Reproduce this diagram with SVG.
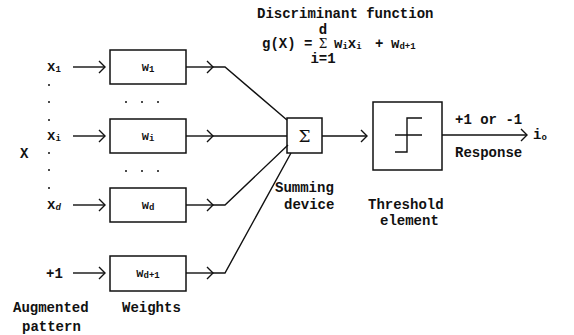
<svg xmlns="http://www.w3.org/2000/svg" width="574" height="335" viewBox="0 0 574 335">
<style>
  text { font-family: "Liberation Mono", "DejaVu Sans Mono", monospace; font-weight: bold; font-size: 14px; fill: #111; }
  .box { fill: #fff; stroke: #111; stroke-width: 1.5; }
  .ln { fill: none; stroke: #111; stroke-width: 1.4; }
  .sub { font-size: 9px; }
  .bl { font-size: 12px; text-anchor: middle; }
  .mid { text-anchor: middle; }
  .dot { fill: #111; }
</style>
<defs>
  <marker id="chev" markerUnits="userSpaceOnUse" markerWidth="10" markerHeight="14" refX="8" refY="7" orient="auto">
    <path d="M2,1 L8,7 L2,13" fill="none" stroke="#111" stroke-width="1.4"/>
  </marker>
</defs>

<g id="title">
  <text x="257" y="18">Discriminant function</text>
  <text x="323" y="34" class="mid">d</text>
  <text x="262" y="48">g(X) = </text>
  <text x="323" y="48" class="mid" style="font-family:'DejaVu Serif',serif;font-weight:normal;font-size:12px">Σ</text>
  <text x="334" y="48">w<tspan class="sub" dy="1">i</tspan><tspan dy="-1">x</tspan><tspan class="sub" dy="1">i</tspan></text>
  <text x="375" y="48">+</text>
  <text x="391" y="48">w<tspan class="sub" dy="1">d+1</tspan></text>
  <text x="323" y="63" class="mid">i=1</text>
</g>

<g id="inputs">
  <text x="47" y="71">x<tspan class="sub" dy="1">1</tspan></text>
  <text x="47" y="140">x<tspan class="sub" dy="1">i</tspan></text>
  <text x="47" y="209">x<tspan class="sub" dy="1" style="font-style:italic">d</tspan></text>
  <text x="46" y="278">+1</text>
  <text x="20" y="158">X</text>
  <circle class="dot" cx="49" cy="85" r="1"/>
  <circle class="dot" cx="49" cy="102" r="1"/>
  <circle class="dot" cx="49" cy="120" r="1"/>
  <circle class="dot" cx="49" cy="153" r="1"/>
  <circle class="dot" cx="49" cy="170" r="1"/>
  <circle class="dot" cx="49" cy="188" r="1"/>
  <circle class="dot" cx="126" cy="102" r="1"/>
  <circle class="dot" cx="142" cy="102" r="1"/>
  <circle class="dot" cx="158" cy="102" r="1"/>
  <circle class="dot" cx="126" cy="171" r="1"/>
  <circle class="dot" cx="142" cy="171" r="1"/>
  <circle class="dot" cx="158" cy="171" r="1"/>
</g>

<g id="w1">
  <rect class="box" x="110" y="50" width="76" height="34"/>
  <text x="148" y="71" class="bl">w<tspan class="sub" dy="1">1</tspan></text>
</g>
<g id="wi">
  <rect class="box" x="110" y="119" width="76" height="34"/>
  <text x="148" y="140" class="bl">w<tspan class="sub" dy="1">i</tspan></text>
</g>
<g id="wd">
  <rect class="box" x="110" y="188" width="76" height="34"/>
  <text x="148" y="209" class="bl">w<tspan class="sub" dy="1">d</tspan></text>
</g>
<g id="wd1">
  <rect class="box" x="110" y="256" width="76" height="35"/>
  <text x="148" y="277" class="bl">w<tspan class="sub" dy="1">d+1</tspan></text>
</g>

<g id="sum">
  <rect class="box" x="287" y="118" width="35" height="35"/>
  <text x="304.5" y="142" class="mid" style="font-family:'DejaVu Serif',serif;font-weight:normal;font-size:17px">Σ</text>
  <text x="275" y="192">Summing</text>
  <text x="284" y="209">device</text>
</g>

<g id="threshold">
  <rect class="box" x="373" y="102" width="69" height="68"/>
  <path class="ln" d="M395,152 H407 V118 H422 M395,135 H422" stroke-width="1.8"/>
  <text x="368" y="209">Threshold</text>
  <text x="380" y="225">element</text>
</g>

<g id="output">
  <text x="455" y="124">+1 or -1</text>
  <text x="455" y="157">Response</text>
  <text x="533" y="139">i<tspan class="sub" dy="1">o</tspan></text>
</g>

<g id="labels">
  <text x="13" y="312">Augmented</text>
  <text x="22" y="331">pattern</text>
  <text x="122" y="312">Weights</text>
</g>

<g id="connectors">
  <path class="ln" d="M73,67 H105" marker-end="url(#chev)"/>
  <path class="ln" d="M73,136 H105" marker-end="url(#chev)"/>
  <path class="ln" d="M73,205 H105" marker-end="url(#chev)"/>
  <path class="ln" d="M73,273 H105" marker-end="url(#chev)"/>

  <path class="ln" d="M186,67 H213" marker-end="url(#chev)"/>
  <path class="ln" d="M213,67 H225 L287,120"/>
  <path class="ln" d="M186,136 H213" marker-end="url(#chev)"/>
  <path class="ln" d="M213,136 H287"/>
  <path class="ln" d="M186,205 H213" marker-end="url(#chev)"/>
  <path class="ln" d="M213,205 H225 L288,145"/>
  <path class="ln" d="M186,273 H213" marker-end="url(#chev)"/>
  <path class="ln" d="M213,273 H225 L291,153"/>

  <path class="ln" d="M322,136 H367" marker-end="url(#chev)"/>
  <path class="ln" d="M442,135 H527" marker-end="url(#chev)"/>
</g>
</svg>
